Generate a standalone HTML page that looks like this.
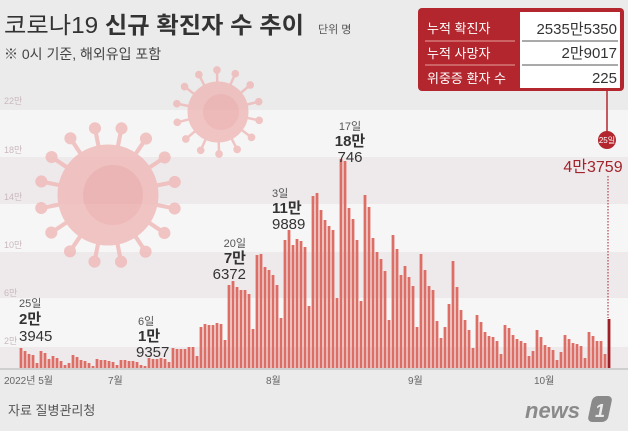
<!DOCTYPE html>
<html><head><meta charset="utf-8">
<style>
html,body{margin:0;padding:0;}
body{width:628px;height:426px;overflow:hidden;background:#ebebeb;font-family:"Liberation Sans","Noto Sans CJK KR",sans-serif;}
svg text{font-family:"Liberation Sans","Noto Sans CJK KR",sans-serif;}
</style></head><body>
<svg id="s" width="628" height="426" viewBox="0 0 628 426" xmlns="http://www.w3.org/2000/svg">
<rect x="0" y="0" width="628" height="426" fill="#ebebeb"/>
<rect x="0" y="110" width="628" height="47" fill="#f5f5f5"/>
<rect x="0" y="157" width="628" height="47" fill="#eeeaec"/>
<rect x="0" y="204" width="628" height="48" fill="#f6f6f6"/>
<rect x="0" y="252" width="628" height="46" fill="#eeeaec"/>
<rect x="0" y="298" width="628" height="49" fill="#f6f6f6"/>
<rect x="0" y="347" width="628" height="21" fill="#eeeaec"/>
<rect x="0" y="368" width="628" height="2" fill="#cfcfcf"/>
<g font-size="9" fill="#c9b9bd">
<text x="4" y="104">22만</text>
<text x="4" y="153">18만</text>
<text x="4" y="200">14만</text>
<text x="4" y="248">10만</text>
<text x="4" y="296">6만</text>
<text x="4" y="344">2만</text>
</g>
<g id="v1" fill="#f0b0b0" stroke="#f0b0b0" opacity="0.7"></g>
<g id="v2" fill="#f0b0b0" stroke="#f0b0b0" opacity="0.7"></g>
<g id="bars"></g>
<text x="4" y="33" font-size="23" fill="#333" textLength="300" lengthAdjust="spacingAndGlyphs">코로나19 <tspan font-weight="bold">신규 확진자 수 추이</tspan></text>
<text x="318" y="33" font-size="11" fill="#555">단위 명</text>
<text x="4" y="59" font-size="14" fill="#444">※ 0시 기준, 해외유입 포함</text>
<rect x="418" y="8" width="206" height="83" rx="4" fill="#b3262d"/>
<rect x="520" y="12" width="100" height="76" fill="#ffffff"/>
<line x1="425" y1="41" x2="515" y2="41" stroke="#e8a0a0" stroke-width="1"/>
<line x1="425" y1="65" x2="515" y2="65" stroke="#e8a0a0" stroke-width="1"/>
<line x1="522" y1="41" x2="618" y2="41" stroke="#555" stroke-width="1"/>
<line x1="522" y1="65" x2="618" y2="65" stroke="#555" stroke-width="1"/>
<g font-size="13" fill="#fff">
<text x="427" y="33">누적 확진자</text>
<text x="427" y="58">누적 사망자</text>
<text x="427" y="83">위중증 환자 수</text>
</g>
<g font-size="15" fill="#333" text-anchor="end">
<text x="617" y="34">2535만5350</text>
<text x="617" y="58">2만9017</text>
<text x="617" y="83">225</text>
</g>
<line x1="607" y1="91" x2="607" y2="132" stroke="#b3262d" stroke-width="1.5"/>
<circle cx="607" cy="140" r="9" fill="#b3262d"/>
<text x="607" y="143" font-size="8" fill="#fff" text-anchor="middle">25일</text>
<text x="593" y="172" font-size="16" fill="#a3232a" text-anchor="middle">4만3759</text>
<line x1="608" y1="176" x2="608" y2="318" stroke="#a3232a" stroke-width="1" stroke-dasharray="1.5,1.5"/>
<g fill="#333">
<text x="19" y="307" font-size="11" fill="#555">25일</text>
<text x="19" y="324" font-size="15" font-weight="bold">2만</text>
<text x="19" y="341" font-size="15">3945</text>
<text x="138" y="325" font-size="11" fill="#555">6일</text>
<text x="138" y="341" font-size="15" font-weight="bold">1만</text>
<text x="136" y="357" font-size="15">9357</text>
<text x="246" y="247" font-size="11" fill="#555" text-anchor="end">20일</text>
<text x="246" y="263" font-size="15" font-weight="bold" text-anchor="end">7만</text>
<text x="246" y="279" font-size="15" text-anchor="end">6372</text>
<text x="272" y="197" font-size="11" fill="#555">3일</text>
<text x="272" y="213" font-size="15" font-weight="bold">11만</text>
<text x="272" y="229" font-size="15">9889</text>
<text x="350" y="130" font-size="11" fill="#555" text-anchor="middle">17일</text>
<text x="350" y="146" font-size="15" font-weight="bold" text-anchor="middle">18만</text>
<text x="350" y="162" font-size="15" text-anchor="middle">746</text>
</g>
<g font-size="10" fill="#666">
<text x="4" y="384">2022년 5월</text>
<text x="108" y="384">7월</text>
<text x="266" y="384">8월</text>
<text x="408" y="384">9월</text>
<text x="534" y="384">10월</text>
</g>
<text x="8" y="415" font-size="13" fill="#555">자료 질병관리청</text>
<text x="525" y="418" font-size="22" font-style="italic" font-weight="bold" fill="#8a8a8a">news</text>
<rect x="590" y="396" width="20" height="26" rx="5" fill="#8a8a8a" transform="skewX(-12)" transform-origin="600 409"/>
<text x="600" y="417" font-size="18" font-weight="bold" font-style="italic" fill="#ebebeb" text-anchor="middle">1</text>
</svg>
<script>
var h=[20,17,14,13,5,17,15,9,12,10,7,3,5,13,11,8,7,5,2,9,8,8,7,6,3,8,8,7,7,6,3,2,10,9,9,10,9,6,20,19,
19,19,21,21,12,41,44,43,43,45,44,28,83,87,81,78,78,74,39,113,114,101,98,93,83,50,128,138,123,129,127,121,62,172,175,158,148,142,138,70,
209,207,160,149,128,67,173,161,130,116,109,97,48,133,119,93,102,91,82,41,114,98,82,78,47,30,41,64,107,81,58,48,38,20,53,46,36,32,31,27,14,43,40,
33,29,27,25,12,17,38,31,23,21,18,8,16,33,29,25,24,22,10,36,32,27,27,14,49];
var NS="http://www.w3.org/2000/svg",g=document.getElementById("bars");
var n=h.length,x0=21,step=(609-21)/(n-1);
for(var i=0;i<n;i++){var r=document.createElementNS(NS,"rect");var x=x0+i*step;
r.setAttribute("x",(x-1.4).toFixed(2));r.setAttribute("y",368-h[i]);r.setAttribute("width","2.8");r.setAttribute("height",h[i]);
r.setAttribute("fill",i==n-1?"#9e1f26":"#dc6e66");g.appendChild(r);}
function virus(id,cx,cy,R,L,k){var v=document.getElementById(id);
var c=document.createElementNS(NS,"circle");c.setAttribute("cx",cx);c.setAttribute("cy",cy);c.setAttribute("r",R);v.appendChild(c);
for(var j=0;j<k;j++){var a=j*2*Math.PI/k+0.2;var l=document.createElementNS(NS,"line");
l.setAttribute("x1",cx);l.setAttribute("y1",cy);l.setAttribute("x2",cx+Math.cos(a)*(R+L));l.setAttribute("y2",cy+Math.sin(a)*(R+L));l.setAttribute("stroke-width",R/12);v.appendChild(l);
var d=document.createElementNS(NS,"circle");d.setAttribute("cx",cx+Math.cos(a)*(R+L));d.setAttribute("cy",cy+Math.sin(a)*(R+L));d.setAttribute("r",R/9);v.appendChild(d);}
var in1=document.createElementNS(NS,"circle");in1.setAttribute("cx",cx+R*0.1);in1.setAttribute("cy",cy);in1.setAttribute("r",R*0.6);in1.setAttribute("fill","#eba0a0");in1.setAttribute("stroke","none");v.appendChild(in1);}
virus("v1",108,195,50,18,16);
virus("v2",218,112,30,12,14);
</script>
</body></html>
